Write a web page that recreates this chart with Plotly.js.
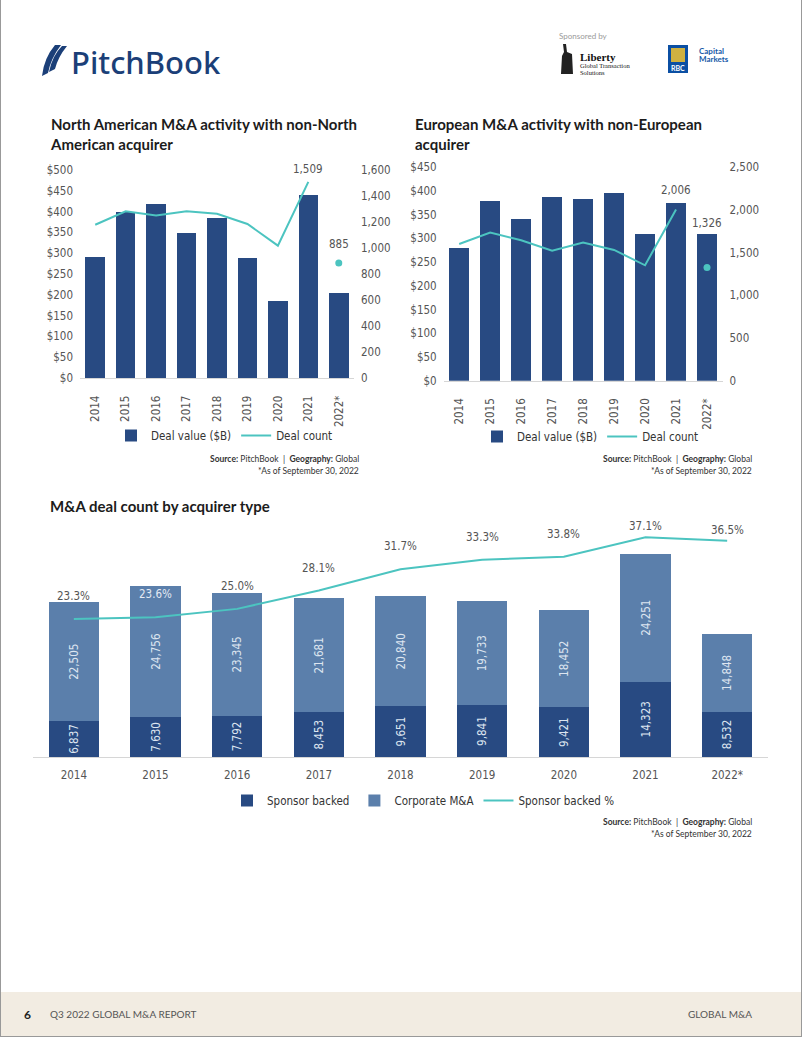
<!DOCTYPE html>
<html><head><meta charset="utf-8">
<script src="https://cdn.plot.ly/plotly-3.0.1.min.js"></script>
<style>html,body{margin:0;padding:0;background:#fff;} #chart{width:802px;height:1037px;}</style>
</head><body><div id="chart"></div>
<script>
// ---------- DATA ----------
const years = ['2014','2015','2016','2017','2018','2019','2020','2021','2022*'];
const naDealValue = [291, 399, 419, 349, 384, 289, 186, 441, 205];
const naDealCount = [1179, 1282, 1251, 1282, 1264, 1185, 1018, 1509, 885];
const euDealValue = [280, 379, 340, 388, 383, 396, 309, 374, 309];
const euDealCount = [1602, 1735, 1645, 1524, 1618, 1532, 1352, 2006, 1326];
const sponsorBacked = [6837, 7630, 7792, 8453, 9651, 9841, 9421, 14323, 8532];
const corporateMA = [22505, 24756, 23345, 21681, 20840, 19733, 18452, 24251, 14848];
const sponsorPct = [23.3, 23.6, 25.0, 28.1, 31.7, 33.3, 33.8, 37.1, 36.5];

// ---------- STYLE ----------
const W = 802, H = 1037;
const PX = x => x / W;
const PY = y => 1 - y / H;
const NAVY = '#284a82', LIGHT = '#5b7fab', TEAL = '#4cc4c0';
const COND = '"Liberation Sans Narrow", "DejaVu Sans Condensed", "Roboto", sans-serif';
const HEAD = 'Lato, "Open Sans", sans-serif';
const TICK = {family: COND, size: 11.5, color: '#555'};
const fmt = v => v.toLocaleString('en-US');

function pathPx(s) {
  const tok = s.trim().split(/\s+/);
  let out = [], xy = 0;
  for (const t of tok) {
    if (/^[A-Za-z]$/.test(t)) { out.push(t); xy = 0; }
    else { const n = parseFloat(t); out.push(xy % 2 === 0 ? PX(n).toFixed(5) : PY(n).toFixed(5)); xy++; }
  }
  return out.join(' ');
}

const last = years.length - 1;
const traces = [
  // North America
  {type:'bar', x: years, y: naDealValue, xaxis:'x', yaxis:'y', name:'Deal value ($B)', legend:'legend',
   marker:{color: NAVY}, width: 0.64},
  {type:'scatter', mode:'lines', x: years.slice(0, last), y: naDealCount.slice(0, last), xaxis:'x', yaxis:'y2',
   name:'Deal count', legend:'legend', line:{color: TEAL, width: 2}},
  {type:'scatter', mode:'markers', x: [years[last]], y: [naDealCount[last]], xaxis:'x', yaxis:'y2',
   showlegend:false, marker:{color: TEAL, size: 7}},
  // Europe
  {type:'bar', x: years, y: euDealValue, xaxis:'x2', yaxis:'y3', name:'Deal value ($B)', legend:'legend2',
   marker:{color: NAVY}, width: 0.64},
  {type:'scatter', mode:'lines', x: years.slice(0, last), y: euDealCount.slice(0, last), xaxis:'x2', yaxis:'y4',
   name:'Deal count', legend:'legend2', line:{color: TEAL, width: 2}},
  {type:'scatter', mode:'markers', x: [years[last]], y: [euDealCount[last]], xaxis:'x2', yaxis:'y4',
   showlegend:false, marker:{color: TEAL, size: 7}},
  // Acquirer type
  {type:'bar', x: years, y: sponsorBacked, xaxis:'x3', yaxis:'y5', name:'Sponsor backed', legend:'legend3',
   marker:{color: NAVY}, width: 0.62, text: sponsorBacked.map(fmt), textposition:'inside', textangle:-90,
   insidetextanchor:'middle', textfont:{family: COND, size: 11.5, color:'#dde5f0'}, constraintext:'none'},
  {type:'bar', x: years, y: corporateMA, xaxis:'x3', yaxis:'y5', name:'Corporate M&A', legend:'legend3',
   marker:{color: LIGHT}, width: 0.62, text: corporateMA.map(fmt), textposition:'inside', textangle:-90,
   insidetextanchor:'middle', textfont:{family: COND, size: 11.5, color:'#dde5f0'}, constraintext:'none'},
  {type:'scatter', mode:'lines', x: years, y: sponsorPct, xaxis:'x3', yaxis:'y6', name:'Sponsor backed %',
   legend:'legend3', line:{color: TEAL, width: 2}}
];

const annotations = [];
function addText(x, y, text, opts) {
  annotations.push(Object.assign({xref:'paper', yref:'paper', x: PX(x), y: PY(y), text, showarrow:false,
    xanchor:'left', yanchor:'middle', font:{family: COND, size: 12, color:'#333'}}, opts || {}));
}
// titles
addText(48, 134, '<b>North American M&A activity with non-North<br>American acquirer</b>',
  {font:{family: HEAD, size: 15, color:'#1c1c1c'}, align:'left'});
addText(413, 134, '<b>European M&A activity with non-European<br>acquirer</b>',
  {font:{family: HEAD, size: 15, color:'#1c1c1c'}, align:'left'});
addText(48, 506, '<b>M&A deal count by acquirer type</b>', {font:{family: HEAD, size: 15, color:'#1c1c1c'}});
// sources
const srcFont = {family: HEAD, size: 8.5, color:'#333'};
[[361, 459], [754, 459], [754, 822]].forEach(([x, y]) => {
  addText(x, y, '<b>Source:</b> PitchBook  |  <b>Geography:</b> Global', {xanchor:'right', font: srcFont});
  addText(x, y + 12, '*As of September 30, 2022', {xanchor:'right', font: srcFont});
});
// line value labels (category index positions)
annotations.push({xref:'x', yref:'y2', x: last-1, y: naDealCount[last-1], text: fmt(naDealCount[last-1]),
  showarrow:false, yshift: 4, yanchor:'bottom', font: TICK});
annotations.push({xref:'x', yref:'y2', x: last, y: naDealCount[last], text: fmt(naDealCount[last]),
  showarrow:false, yshift: 10, yanchor:'bottom', font: TICK});
annotations.push({xref:'x2', yref:'y4', x: last-1, y: euDealCount[last-1], text: fmt(euDealCount[last-1]),
  showarrow:false, yshift: 10, yanchor:'bottom', font: TICK});
annotations.push({xref:'x2', yref:'y3', x: last, y: euDealValue[last], text: fmt(euDealCount[last]),
  showarrow:false, yshift: 2, yanchor:'bottom', font: TICK});
sponsorPct.forEach((p, i) => {
  annotations.push({xref:'x3', yref:'y6', x: i, y: p, text: p.toFixed(1) + '%', showarrow:false,
    yshift: (i >= last - 1 ? 2 : 14), yanchor:'bottom',
    font: Object.assign({}, TICK, i === 1 ? {color:'#e4eaf3'} : {})});
});
// header
addText(69, 62, 'PitchBook', {font:{family:'"Noto Sans", sans-serif', size: 31, color:'#1b3f78', weight: 500}});
addText(557, 36, 'Sponsored by', {font:{family: HEAD, size: 8, color:'#9a9a9a'}});
addText(578, 57, '<b>Liberty</b>', {font:{family:'"Liberation Serif", serif', size: 11, color:'#111'}});
addText(578, 66, 'Global Transaction', {font:{family:'"Liberation Serif", serif', size: 6.5, color:'#111'}});
addText(578, 72, 'Solutions', {font:{family:'"Liberation Serif", serif', size: 6.5, color:'#111'}});
addText(697, 51, '<b>Capital</b>', {font:{family: HEAD, size: 8, color:'#1659a8'}});
addText(697, 59, '<b>Markets</b>', {font:{family: HEAD, size: 8, color:'#1659a8'}});
addText(678, 68, '<b>RBC</b>', {xanchor:'center', font:{family: HEAD, size: 7, color:'#fff'}});
// footer
addText(22, 1014, '<b>6</b>', {font:{family: HEAD, size: 12, color:'#222'}});
addText(48, 1014, 'Q3 2022 GLOBAL M&A REPORT', {font:{family: HEAD, size: 10, color:'#555'}});
addText(754, 1014, 'GLOBAL M&A', {xanchor:'right', font:{family: HEAD, size: 10, color:'#555'}});

const shapes = [
  {type:'rect', xref:'paper', yref:'paper', x0: 0, x1: 1, y0: 0, y1: PY(992), fillcolor:'#f2ece2', line:{width:0}, layer:'below'},
  {type:'line', xref:'paper', yref:'paper', x0: PX(0.5), x1: PX(0.5), y0: 0, y1: 1, line:{color:'#999', width:1}},
  {type:'line', xref:'paper', yref:'paper', x0: PX(801.5), x1: PX(801.5), y0: 0, y1: 1, line:{color:'#999', width:1}},
  {type:'line', xref:'paper', yref:'paper', x0: 0, x1: 1, y0: PY(1036.5), y1: PY(1036.5), line:{color:'#999', width:1}},
  // PitchBook sail
  {type:'path', xref:'paper', yref:'paper', path: pathPx('M 42 76 Q 44 58 55 45 L 61 45 Q 51 58 48 73 Z'), fillcolor:'#1b3f78', line:{width:0}},
  {type:'path', xref:'paper', yref:'paper', path: pathPx('M 49 72 Q 52 56 62 46 L 67 46 Q 58 57 55 69 Z'), fillcolor:'#1b3f78', line:{width:0}},
  // Liberty statue
  {type:'path', xref:'paper', yref:'paper', path: pathPx('M 563 44 L 566 44 L 567 52 L 572 54 L 573 74 L 561 74 L 562 56 L 564 52 Z'), fillcolor:'#222', line:{width:0}},
  // RBC shield
  {type:'rect', xref:'paper', yref:'paper', x0: PX(668), x1: PX(688), y0: PY(73), y1: PY(45), fillcolor:'#0b4fa3', line:{width:0}},
  {type:'path', xref:'paper', yref:'paper', path: pathPx('M 671 48 L 685 48 L 685 62 L 671 62 Z'), fillcolor:'#f2c230', line:{width:0}, opacity: 0.85}
];

const baseY = {showgrid:false, zeroline:false, ticks:'', tickfont: TICK, showline:false, fixedrange:true};
const baseX = {type:'category', showgrid:false, zeroline:false, ticks:'', tickfont: TICK, showline:true,
  linecolor:'#d6d6d6', linewidth:1, fixedrange:true, range:[-0.5, years.length - 0.5]};
const legendBase = {orientation:'h', xanchor:'left', yanchor:'top', bgcolor:'rgba(0,0,0,0)', traceorder:'normal',
  font:{family: COND, size: 11.5, color:'#333'}, itemwidth: 30, tracegroupgap: 0};

const layout = {
  width: W, height: H, autosize:false, margin:{l:0, r:0, t:0, b:0},
  paper_bgcolor:'#fff', plot_bgcolor:'rgba(0,0,0,0)', barmode:'stack', showlegend:true,
  font:{family: COND, color:'#444'},
  xaxis: Object.assign({}, baseX, {domain:[PX(80), PX(354)], anchor:'y', tickangle:-90, ticklabelstandoff: 12}),
  yaxis: Object.assign({}, baseY, {domain:[PY(378), PY(170)], anchor:'x', range:[0, 500], dtick: 50, tickprefix:'$', ticklabelstandoff: 6}),
  yaxis2: Object.assign({}, baseY, {overlaying:'y', side:'right', anchor:'x', range:[0, 1600], dtick: 200, tickformat:',', ticklabelstandoff: 6}),
  xaxis2: Object.assign({}, baseX, {domain:[PX(443.7), PX(722.5)], anchor:'y3', tickangle:-90, ticklabelstandoff: 12}),
  yaxis3: Object.assign({}, baseY, {domain:[PY(380.7), PY(167.3)], anchor:'x2', range:[0, 450], dtick: 50, tickprefix:'$', ticklabelstandoff: 6}),
  yaxis4: Object.assign({}, baseY, {overlaying:'y3', side:'right', anchor:'x2', range:[0, 2500], dtick: 500, tickformat:',', ticklabelstandoff: 6}),
  xaxis3: Object.assign({}, baseX, {domain:[PX(33), PX(768)], anchor:'y5', tickangle:0, ticklabelstandoff: 7}),
  yaxis5: Object.assign({}, baseY, {domain:[PY(757), PY(520)], anchor:'x3', range:[0, 45000], visible:false}),
  yaxis6: Object.assign({}, baseY, {overlaying:'y5', anchor:'x3', range:[0, 40], visible:false}),
  legend: Object.assign({}, legendBase, {x: PX(111), y: PY(421)}),
  legend2: Object.assign({}, legendBase, {x: PX(477), y: PY(422)}),
  legend3: Object.assign({}, legendBase, {x: PX(227), y: PY(786)}),
  annotations, shapes
};

Plotly.newPlot('chart', traces, layout, {displayModeBar:false, staticPlot:true});
</script>
</body></html>
